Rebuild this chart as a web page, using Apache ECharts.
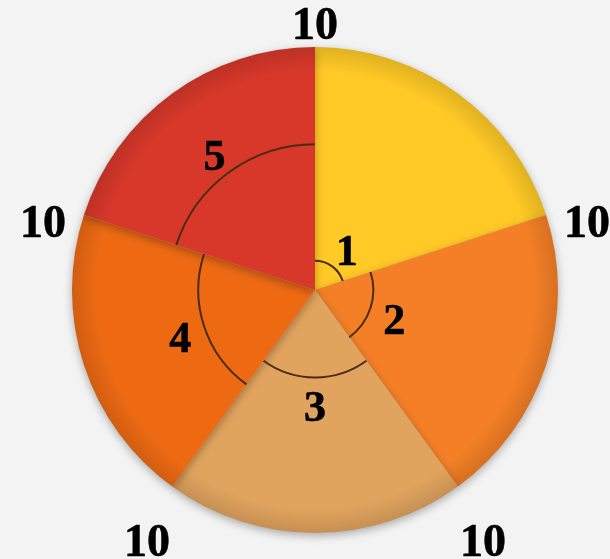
<!DOCTYPE html>
<html>
<head>
<meta charset="utf-8">
<script src="https://cdn.jsdelivr.net/npm/echarts@6/dist/echarts.min.js"></script>
<style>
  html, body { margin: 0; padding: 0; background: #f3f3f3; }
  #chart { width: 610px; height: 559px; }
</style>
</head>
<body>
<div id="chart"></div>
<script>
// slice values (all equal) and their colours
const sliceValues = [10, 10, 10, 10, 10]
const sliceColors = ['#ffc926', '#f47f26', '#e1a45e', '#ed6a13', '#d7382a']
// inner arc values, one per slice
const arcValues = [1, 2, 3, 4, 5]
const arcLabels = ['1', '2', '3', '4', '5']

const CX = 315, CY = 290, R = 243
const R_MAX = 8.33       // radius axis extent
const LABEL_R = 9.8      // where the outer "10" labels sit (axis units)
const FONT = 'Liberation Serif'

const chart = echarts.init(document.getElementById('chart'), null, {renderer: 'canvas'})

const total = sliceValues.reduce((a, b) => a + b, 0)
const starts = []
let acc = 0
sliceValues.forEach(v => { starts.push(acc); acc += v })

function darker(hex, f) {
  const n = parseInt(hex.slice(1), 16)
  const r = Math.round(((n >> 16) & 255) * f), g = Math.round(((n >> 8) & 255) * f), b = Math.round((n & 255) * f)
  return 'rgb(' + r + ',' + g + ',' + b + ')'
}

const pieData = sliceValues.map((v, i) => ({
  value: v,
  itemStyle: {
    color: {
      type: 'radial', x: CX, y: CY, r: R, global: true,
      colorStops: [
        {offset: 0, color: sliceColors[i]},
        {offset: 0.9, color: sliceColors[i]},
        {offset: 1, color: darker(sliceColors[i], 0.88)}
      ]
    }
  }
}))

const arcData = arcValues.map((v, i) => [v, starts[i], starts[i] + sliceValues[i], arcLabels[i]])
const outerData = sliceValues.map((v, i) => [LABEL_R, starts[i], String(v)])

chart.setOption({
  backgroundColor: '#f3f3f3',
  animation: false,
  polar: {center: [CX, CY], radius: R},
  angleAxis: {type: 'value', min: 0, max: total, startAngle: 90, clockwise: true, show: false},
  radiusAxis: {type: 'value', min: 0, max: R_MAX, show: false},
  series: [
    {
      type: 'pie',
      center: [CX, CY],
      radius: [0, R],
      startAngle: 90,
      clockwise: true,
      label: {show: false},
      labelLine: {show: false},
      emphasis: {disabled: true},
      itemStyle: {
        shadowBlur: 8,
        shadowOffsetY: 3,
        shadowColor: 'rgba(0,0,0,0.3)'
      },
      data: pieData,
      z: 1
    },
    {
      type: 'custom',
      coordinateSystem: 'polar',
      data: arcData,
      z: 5,
      renderItem: function (params, api) {
        const c = api.coord([0, 0])
        const p0 = api.coord([api.value(0), api.value(1)])
        const p1 = api.coord([api.value(0), api.value(2)])
        const pm = api.coord([1, (api.value(1) + api.value(2)) / 2])
        const rr = Math.hypot(p0[0] - c[0], p0[1] - c[1])
        const a0 = Math.atan2(p0[1] - c[1], p0[0] - c[0])
        const a1 = Math.atan2(p1[1] - c[1], p1[0] - c[0])
        const am = Math.atan2(pm[1] - c[1], pm[0] - c[0])
        const lr = rr + 25
        return {
          type: 'group',
          children: [
            {
              type: 'arc',
              shape: {cx: c[0], cy: c[1], r: rr, startAngle: a0, endAngle: a1, clockwise: true},
              style: {stroke: '#4a2c14', lineWidth: 2, fill: null}
            },
            {
              type: 'text',
              x: c[0] + lr * Math.cos(am),
              y: c[1] + lr * Math.sin(am) + 7,
              style: {
                text: api.value(3),
                fontFamily: FONT,
                fontWeight: 'bold',
                fontSize: 44,
                fill: '#000',
                stroke: '#000',
                lineWidth: 0.6,
                align: 'center',
                verticalAlign: 'middle'
              }
            }
          ]
        }
      }
    },
    {
      type: 'scatter',
      coordinateSystem: 'polar',
      clip: false,
      symbolSize: 0,
      itemStyle: {opacity: 1},
      data: outerData,
      z: 6,
      label: {
        show: true,
        position: 'bottom',
        distance: 0,
        formatter: p => p.data[2],
        fontFamily: FONT,
        fontWeight: 'bold',
        fontSize: 46,
        color: '#000',
        textBorderColor: '#000',
        textBorderWidth: 0.6
      }
    }
  ]
})
</script>
</body>
</html>
